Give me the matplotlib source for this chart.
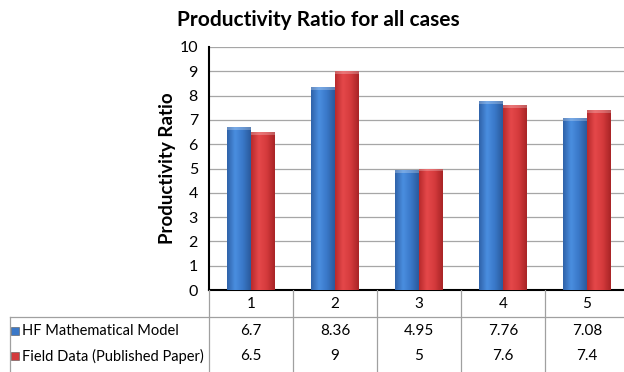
import numpy as np
import matplotlib
matplotlib.use("Agg")
import matplotlib.pyplot as plt
from matplotlib.colors import LinearSegmentedColormap

plt.rcParams['font.family'] = ['Lato', 'DejaVu Sans']

# data
cases = ['1', '2', '3', '4', '5']
series_names = ['HF Mathematical Model', 'Field Data (Published Paper)']
hf_model = [6.7, 8.36, 4.95, 7.76, 7.08]
field_data = [6.5, 9, 5, 7.6, 7.4]
yticks = [0, 1, 2, 3, 4, 5, 6, 7, 8, 9, 10]

blue_cm = LinearSegmentedColormap.from_list('b', ['#2f62a8', '#4a8ee0', '#3a78c8', '#2a5a9c'])
red_cm = LinearSegmentedColormap.from_list('r', ['#b82a2c', '#e5484a', '#d43a3c', '#a82426'])

W, H = 624, 372
fig = plt.figure(figsize=(W / 100, H / 100), dpi=100)

# main plot area (right edge runs past the picture like in the reference)
ax = fig.add_axes([209 / W, 1 - 290 / H, 420 / W, 243 / H])
x = np.arange(1, 6)
bw = 0.285


def grad_bars(ax, xs, vals, cmap):
    bars = ax.bar(xs, vals, width=bw, color='none', edgecolor='none', zorder=3)
    g = np.linspace(0, 1, 64).reshape(1, -1)
    for b in bars:
        x0, y0 = b.get_x(), b.get_y()
        w, h = b.get_width(), b.get_height()
        im = ax.imshow(g, cmap=cmap, extent=[x0, x0 + w, y0, y0 + h],
                       aspect='auto', zorder=3, interpolation='bicubic')
        im.set_clip_path(b)
        # light cap on top
        ax.fill_between([x0, x0 + w], y0 + h - 0.12, y0 + h,
                        color='white', alpha=0.25, zorder=4, lw=0)
    return bars


grad_bars(ax, x - bw / 2, hf_model, blue_cm)
grad_bars(ax, x + bw / 2, field_data, red_cm)

ax.set_xlim(0.5, 5.5)
ax.set_ylim(0, 10)
ax.set_yticks(yticks)
ax.set_yticklabels([str(v) for v in yticks], fontsize=11.5)
ax.set_xticks([])
ax.grid(axis='y', color='#a6a6a6', lw=0.9, zorder=0)
ax.set_axisbelow(True)
for s in ['top', 'right']:
    ax.spines[s].set_visible(False)
ax.spines['left'].set_color('black')
ax.spines['left'].set_linewidth(1.5)
ax.spines['bottom'].set_color('black')
ax.spines['bottom'].set_linewidth(1.5)
ax.tick_params(axis='y', length=0, pad=8)
ax.set_ylabel('Productivity Ratio', fontsize=13.5, fontweight='bold', labelpad=2)
fig.text(318 / W, 1 - 20 / H, 'Productivity Ratio for all cases',
         fontsize=15, fontweight='bold', ha='center', va='center')

# data table under the plot
tax = fig.add_axes([0, 0, 1, 82 / H])
px = 84.0
left_px = 209 - 0.5 * px
tax.set_xlim(-left_px / px, (W - left_px) / px)
tax.set_ylim(82, 0)
tax.axis('off')
line_c = '#a0a0a0'
x_edge = (10 - left_px) / px
for i in range(6):
    tax.plot([0.5 + i, 0.5 + i], [0, 82], color=line_c, lw=0.9)
tax.plot([x_edge, 10], [27, 27], color=line_c, lw=0.9)
tax.plot([x_edge, x_edge], [27, 82], color=line_c, lw=0.9)
for i, c in enumerate(cases):
    tax.text(x[i], 13.5, c, ha='center', va='center', fontsize=11)
row_y = [41, 66]
rows = [hf_model, field_data]
key_cols = ['#3a78c8', '#d43a3c']
for r in range(2):
    key_x = (15 - left_px) / px
    tax.scatter([key_x], [row_y[r]], marker='s', s=30,
                color=key_cols[r], edgecolors='#555555', linewidths=0.4, zorder=3)
    tax.text((22 - left_px) / px, row_y[r], series_names[r],
             ha='left', va='center', fontsize=10.5)
    for i, v in enumerate(rows[r]):
        tax.text(x[i], row_y[r], str(v), ha='center', va='center', fontsize=11)

fig.savefig('out.png', dpi=100)
